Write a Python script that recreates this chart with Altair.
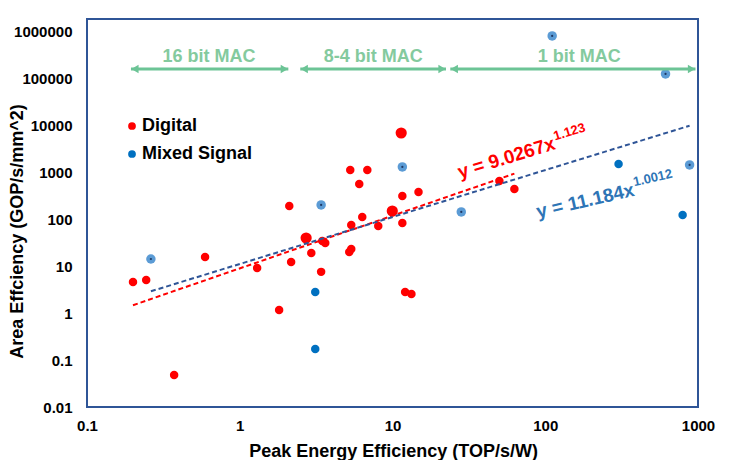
import altair as alt
import pandas as pd

# ---------------- data ----------------
digital_x = [0.20, 0.244, 0.372, 0.593, 1.30, 1.81, 2.11, 2.17, 2.94, 3.41, 3.47, 3.63,
             5.21, 5.37, 5.29, 6.84, 6.06, 5.37, 6.34, 8.07, 11.6, 11.6, 14.8, 12.1, 13.3,
             50.1, 62.8]
digital_y = [4.6, 5.1, 0.048, 15.8, 9.2, 1.17, 193, 12.4, 19.2, 7.6, 34.6, 31.4,
             20.2, 23.4, 1130, 1130, 569, 76, 112, 72, 315, 84, 384, 2.83, 2.57,
             659, 445]
digital_big_x = [2.72, 9.97, 11.4]
digital_big_y = [40.1, 151, 6950]

mixed_x = [3.12, 3.12, 302, 793]
mixed_y = [2.83, 0.173, 1518, 124]
mixed_light_x = [0.262, 3.41, 11.6, 28.2, 111, 613, 881]
mixed_light_y = [14.3, 203, 1310, 144, 813000, 126000, 1445]

red_trend_x = [0.2, 62.8]
red_trend_y = [1.48, 943]
blue_trend_x = [0.262, 881]
blue_trend_y = [2.93, 9934]

mac_labels = ["16 bit MAC", "8-4 bit MAC", "1 bit MAC"]
mac_start = [0.194, 2.49, 23.9]
mac_end = [2.08, 22.4, 963]
mac_center = [0.63, 7.48, 167]
mac_arrow_y = 161000
mac_text_y = 290000

eq_red = ["y = 9.0267x", "1.123"]
eq_red_x = [55.7, 144]
eq_red_y = [2040, 7310]
eq_blue = ["y = 11.184x", "1.0012"]
eq_blue_x = [183, 505]
eq_blue_y = [247, 764]

FONT = "Liberation Sans"
GREEN = "#6CC496"
RED = "#FF0000"
BLUE = "#0070C0"
LIGHT = "#5B9BD5"
NAVY = "#2F5597"

xs = alt.Scale(type="log", domain=[0.1, 1000], nice=False)
ys = alt.Scale(type="log", domain=[0.01, 1.87e6], nice=False)

xaxis = alt.Axis(values=[0.1, 1, 10, 100, 1000], format="~f",
                 title="Peak Energy Efficiency (TOP/s/W)",
                 titleX=306, titleY=44, titleBaseline="middle", titleAlign="center",
                 labelPadding=11, labelFlush=False)
yaxis = alt.Axis(values=[0.01, 0.1, 1, 10, 100, 1000, 10000, 100000, 1000000], format="~f",
                 title="Area Effciency (GOP/s/mm^2)",
                 titleX=-70, titleY=212, titleBaseline="middle", titleAlign="center",
                 titleAngle=270, labelPadding=15, labelFlush=False)

# points with legend
pts = pd.DataFrame({
    "x": digital_x + mixed_x,
    "y": digital_y + mixed_y,
    "series": ["Digital"] * len(digital_x) + ["Mixed Signal"] * len(mixed_x),
})
big = pd.DataFrame({"x": digital_big_x, "y": digital_big_y})
light = pd.DataFrame({"x": mixed_light_x, "y": mixed_light_y})

points = alt.Chart(pts).mark_point(filled=True, opacity=1, size=72, shape="circle").encode(
    x=alt.X("x:Q", scale=xs, axis=xaxis),
    y=alt.Y("y:Q", scale=ys, axis=yaxis),
    color=alt.Color("series:N",
                    scale=alt.Scale(domain=["Digital", "Mixed Signal"], range=[RED, BLUE]),
                    legend=alt.Legend(orient="none", legendX=36, legendY=98, title=None,
                                      labelFont=FONT, labelFontSize=18, labelFontWeight="bold",
                                      labelColor="black", symbolSize=60, symbolType="circle",
                                      symbolStrokeWidth=0, labelOffset=1, rowPadding=10,
                                      padding=0)),
)

big_points = alt.Chart(big).mark_point(filled=True, opacity=1, size=125, shape="circle",
                                       color=RED).encode(
    x=alt.X("x:Q", scale=xs), y=alt.Y("y:Q", scale=ys))

light_points = alt.Chart(light).mark_point(filled=True, opacity=1, size=90, shape="circle",
                                           color=LIGHT).encode(
    x=alt.X("x:Q", scale=xs), y=alt.Y("y:Q", scale=ys))
light_centers = alt.Chart(light).mark_point(filled=True, opacity=1, size=5, shape="circle",
                                            color="#1F3864").encode(
    x=alt.X("x:Q", scale=xs), y=alt.Y("y:Q", scale=ys))

red_trend = alt.Chart(pd.DataFrame({"x": red_trend_x, "y": red_trend_y})).mark_line(
    color=RED, strokeWidth=2, strokeDash=[5, 3]).encode(
    x=alt.X("x:Q", scale=xs), y=alt.Y("y:Q", scale=ys))
blue_trend = alt.Chart(pd.DataFrame({"x": blue_trend_x, "y": blue_trend_y})).mark_line(
    color=NAVY, strokeWidth=2, strokeDash=[5, 3]).encode(
    x=alt.X("x:Q", scale=xs), y=alt.Y("y:Q", scale=ys))

# MAC range arrows
mac = pd.DataFrame({"label": mac_labels, "x1": mac_start, "x2": mac_end,
                    "xc": mac_center, "ya": [mac_arrow_y] * 3, "yt": [mac_text_y] * 3})
arrow_lines = alt.Chart(mac).mark_rule(color=GREEN, strokeWidth=3).encode(
    x=alt.X("x1:Q", scale=xs), x2="x2:Q", y=alt.Y("ya:Q", scale=ys))
heads_l = alt.Chart(mac).mark_point(shape="triangle-left", filled=True, opacity=1, size=70,
                                    color=GREEN, xOffset=4).encode(
    x=alt.X("x1:Q", scale=xs), y=alt.Y("ya:Q", scale=ys))
heads_r = alt.Chart(mac).mark_point(shape="triangle-right", filled=True, opacity=1, size=70,
                                    color=GREEN, xOffset=-4).encode(
    x=alt.X("x2:Q", scale=xs), y=alt.Y("ya:Q", scale=ys))
mac_text = alt.Chart(mac).mark_text(font=FONT, fontSize=18, fontWeight="bold",
                                    color="#84CA9E", baseline="middle", align="center").encode(
    x=alt.X("xc:Q", scale=xs), y=alt.Y("yt:Q", scale=ys), text="label:N")

# trend-line equations
eqr = pd.DataFrame({"t": eq_red, "x": eq_red_x, "y": eq_red_y})
eqb = pd.DataFrame({"t": eq_blue, "x": eq_blue_x, "y": eq_blue_y})
eq_red_main = alt.Chart(eqr.iloc[[0]]).mark_text(font=FONT, fontSize=19, fontWeight="bold",
                                                 color=RED, angle=343, align="center",
                                                 baseline="middle").encode(
    x=alt.X("x:Q", scale=xs), y=alt.Y("y:Q", scale=ys), text="t:N")
eq_red_sup = alt.Chart(eqr.iloc[[1]]).mark_text(font=FONT, fontSize=13, fontWeight="bold",
                                                color=RED, angle=343, align="center",
                                                baseline="middle").encode(
    x=alt.X("x:Q", scale=xs), y=alt.Y("y:Q", scale=ys), text="t:N")
eq_blue_main = alt.Chart(eqb.iloc[[0]]).mark_text(font=FONT, fontSize=19, fontWeight="bold",
                                                  color="#2E75B6", angle=347, align="center",
                                                  baseline="middle").encode(
    x=alt.X("x:Q", scale=xs), y=alt.Y("y:Q", scale=ys), text="t:N")
eq_blue_sup = alt.Chart(eqb.iloc[[1]]).mark_text(font=FONT, fontSize=13, fontWeight="bold",
                                                 color="#2E75B6", angle=347, align="center",
                                                 baseline="middle").encode(
    x=alt.X("x:Q", scale=xs), y=alt.Y("y:Q", scale=ys), text="t:N")

chart = alt.layer(
    points, big_points, light_points, light_centers,
    red_trend, blue_trend,
    arrow_lines, heads_l, heads_r, mac_text,
    eq_red_main, eq_red_sup, eq_blue_main, eq_blue_sup,
).properties(
    width=611, height=388,
    autosize=alt.AutoSizeParams(type="none"),
    padding={"left": 79, "top": 11, "right": 23, "bottom": 53},
).configure_view(
    stroke=NAVY, strokeWidth=2,
).configure_axis(
    domain=False, ticks=False, tickSize=0, grid=False,
    labelFont=FONT, labelFontSize=15, labelFontWeight="bold", labelColor="black",
    titleFont=FONT, titleFontSize=18, titleFontWeight="bold", titleColor="black",
)

chart.save("out.html", embed_options={"renderer": "svg", "actions": False})
